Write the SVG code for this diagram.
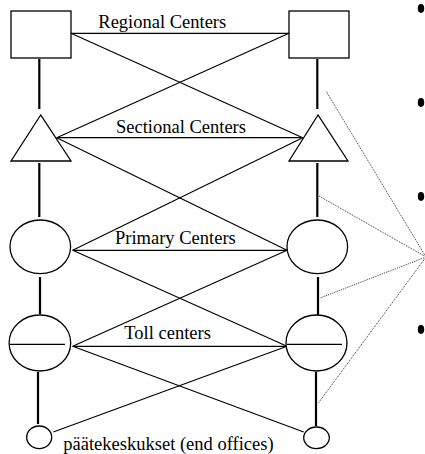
<svg xmlns="http://www.w3.org/2000/svg" width="425" height="454" viewBox="0 0 425 454">
<style>
.shape{fill:#fff;stroke:#000;stroke-width:1.3}
.conn{stroke:#000;stroke-width:1.2;fill:none}
.vert{stroke:#000;stroke-width:2.2;fill:none}
.dot{stroke:#333;stroke-width:1;stroke-dasharray:1 1;fill:none}
.lbl{font-family:"Liberation Serif","Times New Roman",serif;font-size:18.5px;fill:#000}
</style>
<rect width="425" height="454" fill="#fff"/>
<g id="connectors">
<line class="conn" x1="71" y1="33.3" x2="289" y2="33.3"/>
<line class="conn" x1="71" y1="33.3" x2="302.7" y2="137.7"/>
<line class="conn" x1="289" y1="33.3" x2="56.7" y2="137.7"/>
<line class="conn" x1="56.7" y1="137.7" x2="302.7" y2="137.7"/>
<line class="conn" x1="56.7" y1="137.7" x2="287" y2="250.3"/>
<line class="conn" x1="302.7" y1="137.7" x2="72.7" y2="250.3"/>
<line class="conn" x1="72.7" y1="250.3" x2="287" y2="250.3"/>
<line class="conn" x1="72.7" y1="250.3" x2="287" y2="346.3"/>
<line class="conn" x1="287" y1="250.3" x2="72.7" y2="346.3"/>
<line class="conn" x1="72.7" y1="346.3" x2="287" y2="346.3"/>
<line class="conn" x1="72.7" y1="346.3" x2="303.7" y2="432"/>
<line class="conn" x1="287" y1="346.3" x2="53.3" y2="432"/>
<line class="vert" x1="39.3" y1="59" x2="39.3" y2="109"/>
<line class="vert" x1="317.3" y1="59" x2="317.3" y2="109"/>
<line class="vert" x1="39.3" y1="163" x2="39.3" y2="217"/>
<line class="vert" x1="317.3" y1="163" x2="317.3" y2="217"/>
<line class="vert" x1="40" y1="277" x2="40" y2="314"/>
<line class="vert" x1="318" y1="277" x2="318" y2="315"/>
<line class="vert" x1="38" y1="372" x2="38" y2="424"/>
<line class="vert" x1="316" y1="372" x2="316" y2="426"/>
<line class="dot" x1="426" y1="257" x2="326" y2="91"/>
<line class="dot" x1="426" y1="257" x2="319" y2="196"/>
<line class="dot" x1="426" y1="257" x2="320" y2="298"/>
<line class="dot" x1="426" y1="257" x2="318" y2="403.5"/>
</g>
<g id="regional-left"><rect class="shape" x="11" y="11" width="60" height="47"/></g>
<g id="regional-right"><rect class="shape" x="289" y="11" width="60" height="47"/></g>
<g id="sectional-left"><polygon class="shape" points="40.7,115 11,161 71,161"/></g>
<g id="sectional-right"><polygon class="shape" points="318,115 289,161 348,161"/></g>
<g id="primary-left"><ellipse class="shape" cx="40.3" cy="246.8" rx="30.3" ry="26.8"/></g>
<g id="primary-right"><ellipse class="shape" cx="317.3" cy="246.8" rx="30.3" ry="26.8"/></g>
<g id="toll-left"><ellipse class="shape" cx="39.9" cy="343" rx="30.8" ry="28"/><line class="conn" x1="10" y1="344.3" x2="65" y2="344.3"/></g>
<g id="toll-right"><ellipse class="shape" cx="316.5" cy="343" rx="30.5" ry="28"/><line class="conn" x1="287" y1="344.3" x2="342" y2="344.3"/></g>
<g id="end-left"><ellipse class="shape" cx="39.2" cy="437.3" rx="12.5" ry="11.3"/></g>
<g id="end-right"><ellipse class="shape" cx="316.5" cy="437.8" rx="12.8" ry="10.8"/></g>
<g id="labels">
<text class="lbl" x="98.3" y="28">Regional Centers</text>
<text class="lbl" x="116" y="133">Sectional Centers</text>
<text class="lbl" x="115" y="244">Primary Centers</text>
<text class="lbl" x="124.3" y="339">Toll centers</text>
<text class="lbl" x="63.3" y="450">päätekeskukset (end offices)</text>
</g>
<g id="bullets" fill="#000">
<ellipse cx="421" cy="8.5" rx="3.2" ry="4.4"/>
<ellipse cx="421" cy="102.5" rx="3.2" ry="4.4"/>
<ellipse cx="421" cy="196.5" rx="3.2" ry="4.4"/>
<ellipse cx="421" cy="329.5" rx="3.2" ry="4.4"/>
</g>
</svg>
